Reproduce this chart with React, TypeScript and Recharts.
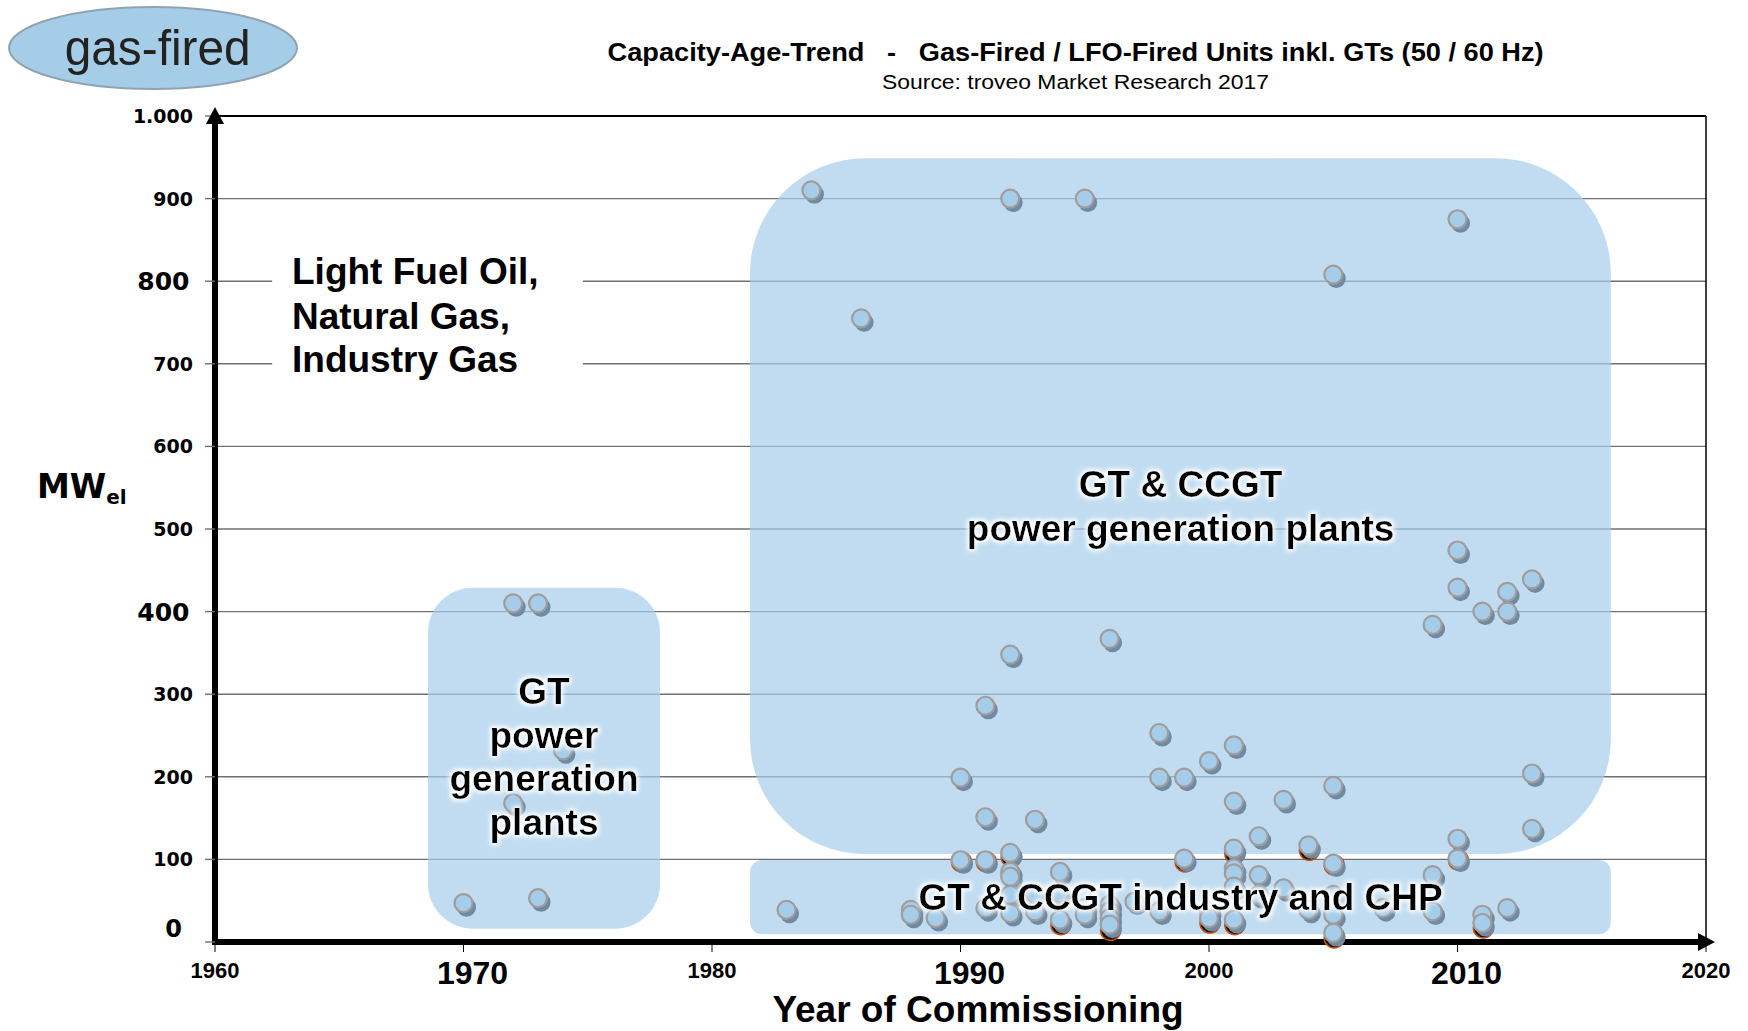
import {
  CartesianGrid,
  ReferenceArea,
  ReferenceDot,
  ReferenceLine,
  Scatter,
  ScatterChart,
  XAxis,
  YAxis,
} from "recharts";

// GT power generation plants (left group)
const gtYear = [1970, 1972, 1972, 1973, 1973, 1974];
const gtMW = [47, 410, 168, 410, 53, 232];

// GT & CCGT power generation plants
const ccgtYear = [
  1984, 1986, 1992, 1995, 2005, 2010, 2010, 2010, 2011, 2012, 2012, 2013, 2009,
  1996, 1992, 1991, 1998, 2001, 2000, 1990, 1998, 1999, 2013, 2005, 2001, 2003,
  1991, 1993, 2002, 2004, 2010, 2013, 2001, 1992,
];
const ccgtMW = [
  910, 755, 900, 900, 808, 875, 474, 429, 400, 424, 400, 439, 384, 367, 348,
  286, 253, 238, 219, 199, 199, 199, 204, 189, 170, 172, 151, 148, 128, 117,
  125, 137, 113, 108,
];

// GT & CCGT industry and CHP
const industryYear = [
  1990, 1991, 1999, 2010, 2005, 1992, 1992, 1994, 2001, 2001, 2002, 2009,
  1983, 1988, 1988, 1989, 1991, 1992, 1992, 1993, 1993, 1994, 1994, 1995, 1995,
  1996, 1996, 1996, 1996, 1997, 1998, 2000, 2000, 2001, 2001, 2002, 2003, 2004,
  2005, 2005, 2005, 2007, 2009, 2011, 2011, 2012,
];
const industryMW = [
  99, 99, 101, 101, 95, 85, 79, 85, 89, 83, 81, 81,
  39, 39, 33, 29, 41, 57, 35, 58, 37, 59, 27, 41, 33,
  45, 37, 29, 21, 49, 37, 37, 29, 67, 27, 57, 65, 39,
  57, 33, 11, 41, 37, 33, 23, 41,
];

// dark markers peeking out behind some units
const darkYear = [1990, 1991, 1992, 1999, 2001, 2004, 2005, 2010, 2005, 2011, 1994, 1996, 2000, 2001];
const darkMW = [100, 100, 106, 100, 110, 114, 96, 102, 8, 20, 24, 17, 26, 24];

const xTicks = [1960, 1970, 1980, 1990, 2000, 2010, 2020];
const bigXTicks = [1970, 1990, 2010];
const yTicks = [0, 100, 200, 300, 400, 500, 600, 700, 800, 900, 1000];
const bigYTicks = [400, 800];

// shaded regions
const regions = [
  { x1: 1968.57, x2: 1977.91, y1: 16, y2: 429, r: 45 },
  { x1: 1981.53, x2: 2016.17, y1: 106.5, y2: 948.8, r: 115 },
  { x1: 1981.53, x2: 2016.17, y1: 9.3, y2: 99.3, r: 12 },
];

const toPoints = (xs: number[], ys: number[]) =>
  xs.map((x, i) => ({ year: x, mw: ys[i] }));

const unitPoints = [
  ...toPoints(gtYear, gtMW),
  ...toPoints(ccgtYear, ccgtMW),
  ...toPoints(industryYear, industryMW),
];
const darkPoints = toPoints(darkYear, darkMW);

function Unit(props: any) {
  const { cx, cy } = props;
  return (
    <g>
      <circle cx={cx + 3} cy={cy + 4} r={9.5} fill="#6f8ba4" />
      <circle cx={cx} cy={cy} r={9} fill="#a5cdea" stroke="#a09c9c" strokeWidth={2.2} />
    </g>
  );
}

function DarkUnit(props: any) {
  const { cx, cy } = props;
  return <circle cx={cx + 1} cy={cy + 2.5} r={10} fill="#141414" stroke="#c24e12" strokeWidth={1.5} />;
}

function XTick({ x, y, payload }: any) {
  const big = bigXTicks.includes(payload.value);
  return (
    <text
      x={x + (big ? 9 : 0)}
      y={y + (big ? 29.5 : 24)}
      textAnchor="middle"
      fontFamily="Liberation Sans, Arial, sans-serif"
      fontWeight="bold"
      fontSize={big ? 32 : 22}
      fill="#000"
    >
      {payload.value}
    </text>
  );
}

function YTick({ x, y, payload }: any) {
  const v = payload.value;
  let size = 19;
  let dx = -10;
  let dy = 7;
  if (bigYTicks.includes(v)) {
    size = 25;
    dx = -13.5;
    dy = 9;
  }
  if (v === 0) {
    size = 24;
    dx = -21;
    dy = -5.5;
  }
  return (
    <text
      x={x + dx}
      y={y + dy}
      textAnchor="end"
      fontFamily="DejaVu Sans, Verdana, sans-serif"
      fontWeight="bold"
      fontSize={size}
      fill="#000"
    >
      {v === 1000 ? "1.000" : v}
    </text>
  );
}

const roundedBox = (r: number, fill: string, opacity: number) => (p: any) =>
  (
    <rect
      x={p.x}
      y={p.y}
      width={p.width}
      height={p.height}
      rx={r}
      ry={r}
      fill={fill}
      fillOpacity={opacity}
    />
  );

const arrowUp = (p: any) => (
  <polygon points={`${p.cx - 9},${p.cy + 8} ${p.cx},${p.cy - 9} ${p.cx + 9},${p.cy + 8}`} fill="#000" />
);
const arrowRight = (p: any) => (
  <polygon points={`${p.cx - 8},${p.cy - 9} ${p.cx + 9},${p.cy} ${p.cx - 8},${p.cy + 9}`} fill="#000" />
);

const bold = "Liberation Sans, Arial, sans-serif";

export default function App() {
  return (
    <div style={{ position: "absolute", left: 0, top: 0, width: 1748, height: 1031, background: "#fff" }}>
      <ScatterChart width={1748} height={1031} margin={{ top: 116, right: 42, bottom: 88, left: 214 }}>
        <CartesianGrid vertical={false} stroke="#707070" strokeWidth={1.4} />
        {regions.map((r, i) => (
          <ReferenceArea
            key={i}
            x1={r.x1}
            x2={r.x2}
            y1={r.y1}
            y2={r.y2}
            ifOverflow="visible"
            shape={roundedBox(r.r, "#a6cdea", 0.7)}
          />
        ))}
        <ReferenceArea x1={1962.3} x2={1974.8} y1={640} y2={860} shape={roundedBox(0, "#fff", 1)} />
        <ReferenceLine y={1000} stroke="#000" strokeWidth={2} />
        <ReferenceLine x={2020} stroke="#000" strokeWidth={1.5} />
        <XAxis
          type="number"
          dataKey="year"
          domain={[1960, 2020]}
          ticks={xTicks}
          interval={0}
          height={1}
          tickSize={10}
          axisLine={{ stroke: "#000", strokeWidth: 6, strokeLinecap: "square" }}
          tickLine={{ stroke: "#000", strokeWidth: 1 }}
          tick={<XTick />}
        />
        <YAxis
          type="number"
          dataKey="mw"
          domain={[0, 1000]}
          ticks={yTicks}
          interval={0}
          width={1}
          tickSize={10}
          axisLine={{ stroke: "#000", strokeWidth: 6, strokeLinecap: "square" }}
          tickLine={{ stroke: "#707070", strokeWidth: 1.4 }}
          tick={<YTick />}
        />
        <ReferenceDot x={1960} y={1000} ifOverflow="visible" shape={arrowUp} />
        <ReferenceDot x={2020} y={0} ifOverflow="visible" shape={arrowRight} />
        <Scatter data={darkPoints} isAnimationActive={false} shape={<DarkUnit />} />
        <Scatter data={unitPoints} isAnimationActive={false} shape={<Unit />} />
      </ScatterChart>

      <svg
        width={1748}
        height={1031}
        style={{ position: "absolute", left: 0, top: 0, pointerEvents: "none" }}
      >
        <defs>
          <filter id="glow" x="-10%" y="-30%" width="120%" height="160%">
            <feMorphology in="SourceAlpha" operator="dilate" radius="2" result="d" />
            <feGaussianBlur in="d" stdDeviation="2" result="b" />
            <feFlood floodColor="#ffffff" />
            <feComposite in2="b" operator="in" result="g" />
            <feMerge>
              <feMergeNode in="g" />
              <feMergeNode in="SourceGraphic" />
            </feMerge>
          </filter>
        </defs>

        <ellipse cx={153} cy={48} rx={144} ry={41} fill="#a6cde8" stroke="#8fa3b3" strokeWidth={2} />
        <text x={64.7} y={65} fontFamily={bold} fontSize={50} textLength={186} lengthAdjust="spacingAndGlyphs" fill="#222">
          gas-fired
        </text>

        <text x={607.6} y={61} fontFamily={bold} fontWeight="bold" fontSize={25} textLength={936} lengthAdjust="spacingAndGlyphs" fill="#000">
          {"Capacity-Age-Trend\u00a0\u00a0\u00a0-\u00a0\u00a0\u00a0Gas-Fired / LFO-Fired Units inkl. GTs (50 / 60 Hz)"}
        </text>
        <text x={882} y={88.5} fontFamily={bold} fontSize={20} textLength={387} lengthAdjust="spacingAndGlyphs" fill="#000">
          Source: troveo Market Research 2017
        </text>

        <text x={37} y={498} fontFamily="DejaVu Sans, Verdana, sans-serif" fontWeight="bold" fontSize={33} fill="#000">
          MW
          <tspan fontSize={20} dy={6}>el</tspan>
        </text>

        <g fontFamily={bold} fontWeight="bold" fontSize={37} fill="#000">
          <text x={292} y={284}>Light Fuel Oil,</text>
          <text x={292} y={329}>Natural Gas,</text>
          <text x={292} y={372}>Industry Gas</text>
        </g>

        <g fontFamily={bold} fontWeight="bold" fontSize={37} fill="#000" textAnchor="middle" filter="url(#glow)">
          <text x={1180.6} y={497}>GT &amp; CCGT</text>
          <text x={1180.6} y={541}>power generation plants</text>
          <text x={1180.6} y={910}>GT &amp; CCGT industry and CHP</text>
          <text x={544} y={704}>GT</text>
          <text x={544} y={748}>power</text>
          <text x={544} y={791}>generation</text>
          <text x={544} y={835}>plants</text>
        </g>

        <text x={978} y={1022} textAnchor="middle" fontFamily={bold} fontWeight="bold" fontSize={37} fill="#000">
          Year of Commissioning
        </text>
      </svg>
    </div>
  );
}
